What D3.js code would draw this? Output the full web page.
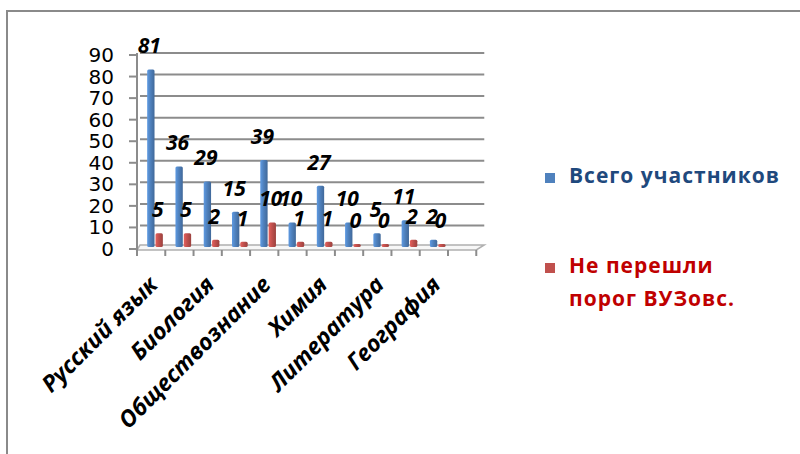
<!DOCTYPE html>
<html>
<head>
<meta charset="utf-8">
<script src="https://cdn.jsdelivr.net/npm/d3@7"></script>
<style>
  body { margin: 0; background: #fff; }
  svg { display: block; font-family: "Open Sans", sans-serif; }
</style>
</head>
<body>
<svg id="chart" width="800" height="454"></svg>
<script>
// subjects (only every other label is shown on the axis)
var categories = ["Русский язык", "", "Биология", "", "Обществознание", "", "Химия", "", "Литература", "", "География"];
var totalVals = [81, 36, 29, 15, 39, 10, 27, 10, 5, 11, 2];
var failedVals = [5, 5, 2, 1, 10, 1, 1, 0, 0, 2, 0];
var seriesNames = ["Всего участников", "Не перешли порог ВУЗовс."];
var yTicks = [0, 10, 20, 30, 40, 50, 60, 70, 80, 90];

var svg = d3.select("#chart");

// frame
svg.append("rect")
  .attr("x", 7).attr("y", 11)
  .attr("width", 900).attr("height", 500)
  .attr("fill", "none")
  .attr("stroke", "#8a8a8a")
  .attr("stroke-width", 2);

var idx = d3.range(categories.length);
var x0 = d3.scaleBand().domain(idx).range([137, 448]);
var x1 = d3.scaleBand().domain([0, 1])
  .range([x0.bandwidth() * 0.36, x0.bandwidth() * 0.95]);
var y = d3.scaleLinear().domain([0, 90]).range([247, 53]);

// gradients for a bit of 3d look
var defs = svg.append("defs");
function grad(id, c) {
  var g = defs.append("linearGradient").attr("id", id);
  g.append("stop").attr("offset", "0%").attr("stop-color", d3.color(c).brighter(0.5));
  g.append("stop").attr("offset", "45%").attr("stop-color", c);
  g.append("stop").attr("offset", "100%").attr("stop-color", d3.color(c).darker(0.6));
}
var colors = ["#4f81bd", "#c0504d"];
grad("g0", colors[0]);
grad("g1", colors[1]);

var xEnd = x0.range()[1] + x0.step();

// floor
svg.append("path")
  .attr("d", d3.line()([[137, 250], [xEnd, 250], [xEnd + 8, 245], [140, 245]]) + "Z")
  .attr("fill", "#f7f7f7")
  .attr("stroke", "#b0b0b0")
  .attr("stroke-width", 1.5);

// gridlines
svg.append("g").selectAll("line")
  .data(yTicks.filter(d => d > 0))
  .enter().append("line")
    .attr("x1", 140).attr("x2", xEnd + 8)
    .attr("y1", d => y(d)).attr("y2", d => y(d))
    .attr("stroke", "#8c8c8c")
    .attr("stroke-width", 2);

// y axis line + ticks
svg.append("line")
  .attr("x1", 137).attr("x2", 137)
  .attr("y1", y(90)).attr("y2", 252)
  .attr("stroke", "#8c8c8c").attr("stroke-width", 2);
svg.append("g").selectAll("line")
  .data(yTicks)
  .enter().append("line")
    .attr("x1", 129).attr("x2", 137)
    .attr("y1", d => y(d) + 2).attr("y2", d => y(d) + 2)
    .attr("stroke", "#8c8c8c").attr("stroke-width", 2);
svg.append("g").selectAll("text")
  .data(yTicks)
  .enter().append("text")
    .attr("x", 114)
    .attr("y", d => y(d) + 9)
    .attr("text-anchor", "end")
    .attr("font-family", "'DejaVu Sans', sans-serif")
    .attr("font-size", 20)
    .attr("fill", "#000")
    .text(d => d);

// x ticks on the floor front edge
svg.append("g").selectAll("line")
  .data(d3.range(categories.length + 2))
  .enter().append("line")
    .attr("x1", i => x0.range()[0] + i * x0.step())
    .attr("x2", i => x0.range()[0] + i * x0.step())
    .attr("y1", 250).attr("y2", 256)
    .attr("stroke", "#8c8c8c").attr("stroke-width", 2);

// bars
var series = [totalVals, failedVals];
series.forEach(function(vals, s) {
  var g = svg.append("g");
  g.selectAll("rect")
    .data(vals)
    .enter().append("rect")
      .attr("x", (d, i) => x0(i) + x1(s))
      .attr("width", x1.bandwidth() - 1)
      .attr("y", d => y(d) - 3)
      .attr("height", d => y(0) - y(d) + 3)
      .attr("rx", 1.5)
      .attr("fill", "url(#g" + s + ")");
  g.selectAll("text")
    .data(vals)
    .enter().append("text")
      .attr("x", (d, i) => x0(i) + x1(s) + x1.bandwidth() / 2 - 2)
      .attr("y", d => y(d) - 19)
      .attr("text-anchor", "middle")
      .attr("font-size", 21)
      .attr("font-weight", "bold")
      .attr("font-style", "italic")
      .attr("fill", "#000")
      .text(d => d);
});

// category labels
svg.append("g").selectAll("text")
  .data(idx.filter(i => categories[i] !== ""))
  .enter().append("text")
    .attr("transform", i => "translate(" + (x0(i) + x0.bandwidth() / 2 + 8) + ",286) rotate(-45)")
    .attr("text-anchor", "end")
    .attr("font-size", 23)
    .attr("font-weight", "bold")
    .attr("font-style", "italic")
    .attr("fill", "#000")
    .text(i => categories[i]);

// legend
var legend = svg.append("g");
var legendRows = [
  { lines: [seriesNames[0]], y: 183, color: colors[0], text: "#1f497d" },
  { lines: ["Не перешли", "порог ВУЗовс."], y: 273, color: colors[1], text: "#c00000" }
];
legendRows.forEach(function(r) {
  legend.append("rect")
    .attr("x", 545).attr("y", r.y - 10)
    .attr("width", 10).attr("height", 10)
    .attr("fill", r.color);
  legend.append("text")
    .attr("x", 569).attr("y", r.y)
    .attr("font-size", 21)
    .attr("font-weight", "bold")
    .attr("letter-spacing", 1)
    .attr("fill", r.text)
    .selectAll("tspan")
    .data(r.lines)
    .enter().append("tspan")
      .attr("x", 569)
      .attr("dy", (d, i) => i ? 33 : 0)
      .text(d => d);
});
</script>
</body>
</html>
